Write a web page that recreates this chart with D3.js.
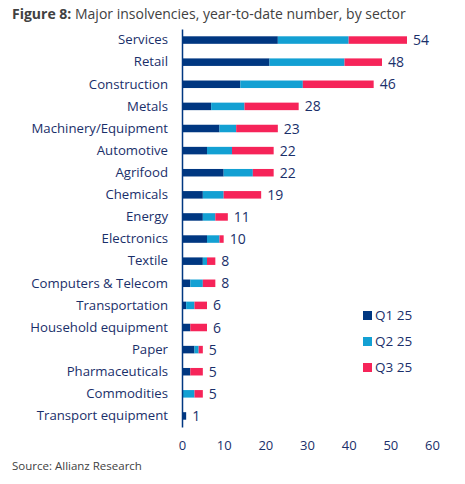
<!DOCTYPE html>
<html>
<head>
<meta charset="utf-8">
<script src="https://cdn.jsdelivr.net/npm/d3@7"></script>
<style>
  body { margin: 0; background: #fff; }
  svg { font-family: "Open Sans", "Noto Sans", sans-serif; }
</style>
</head>
<body>
<svg id="chart" width="465" height="484"></svg>
<script>
const sectors = ['Services', 'Retail', 'Construction', 'Metals', 'Machinery/Equipment', 'Automotive',
  'Agrifood', 'Chemicals', 'Energy', 'Electronics', 'Textile', 'Computers & Telecom', 'Transportation',
  'Household equipment', 'Paper', 'Pharmaceuticals', 'Commodities', 'Transport equipment'];
const q1 = [23, 21, 14, 7, 9, 6, 10, 5, 5, 6, 5, 2, 1, 2, 3, 2, 0, 1];
const q2 = [17, 18, 15, 8, 4, 6, 7, 5, 3, 3, 1, 3, 2, 0, 1, 0, 3, 0];
const q3 = [14, 9, 17, 13, 10, 10, 5, 9, 3, 1, 2, 3, 3, 4, 1, 3, 2, 0];
const seriesNames = ['Q1 25', 'Q2 25', 'Q3 25'];
const xTicks = [0, 10, 20, 30, 40, 50, 60];

const colors = ['#003781', '#13a0d3', '#f62459'];
const navy = '#1a2f6a';
const font = '"Open Sans", "Noto Sans", sans-serif';

const svg = d3.select('#chart');

// title
const title = svg.append('text').attr('x', 12).attr('y', 19)
  .attr('font-size', 14).attr('fill', '#414141');
title.append('tspan').attr('font-weight', 'bold').text('Figure 8:');
title.append('tspan').text(' Major insolvencies, year-to-date number, by sector');

const rows = sectors.map((s, i) => ({ sector: s, vals: [q1[i], q2[i], q3[i]] }));
const stack = d3.stack().keys([0, 1, 2]).value((d, k) => d.vals[k])(rows);

const x = d3.scaleLinear().domain([0, 60]).range([182, 432]);
const y = d3.scaleBand().domain(sectors).range([29, 427]).paddingInner(0.66).paddingOuter(0.33);

// bars
svg.append('g').selectAll('g')
  .data(stack)
  .join('g')
  .attr('fill', (d, i) => colors[i])
  .selectAll('rect')
  .data(d => d)
  .join('rect')
  .attr('x', d => x(d[0]))
  .attr('y', d => y(d.data.sector))
  .attr('width', d => x(d[1]) - x(d[0]))
  .attr('height', y.bandwidth());

// totals
svg.append('g').selectAll('text')
  .data(rows)
  .join('text')
  .attr('x', d => x(d3.sum(d.vals)) + 6)
  .attr('y', d => y(d.sector) + y.bandwidth() / 2)
  .attr('dy', '0.36em')
  .attr('font-size', 14)
  .attr('fill', navy)
  .text(d => d3.sum(d.vals));

// category axis
const yAxis = svg.append('g').attr('transform', 'translate(182,0)')
  .call(d3.axisLeft(y).tickSize(0).tickPadding(14));
yAxis.select('.domain').attr('stroke', '#003781').attr('stroke-width', 1.5);
yAxis.selectAll('text').attr('font-size', 13.2).attr('fill', navy).attr('font-family', font);

// value axis labels
const xAxis = svg.append('g').attr('transform', 'translate(0,441)')
  .call(d3.axisBottom(x).tickValues(xTicks).tickSize(0).tickPadding(0));
xAxis.select('.domain').remove();
xAxis.selectAll('text').attr('font-size', 13).attr('fill', navy).attr('font-family', font);

// legend
const legend = svg.append('g').selectAll('g')
  .data(seriesNames)
  .join('g')
  .attr('transform', (d, i) => `translate(363,${311 + i * 26})`);
legend.append('rect').attr('width', 9).attr('height', 9).attr('fill', (d, i) => colors[i]);
legend.append('text').attr('x', 12).attr('y', 4.5).attr('dy', '0.36em')
  .attr('font-size', 13.5).attr('fill', navy).text(d => d);

// source
svg.append('text').attr('x', 12).attr('y', 470)
  .attr('font-size', 11.5).attr('fill', '#414141').text('Source: Allianz Research');
</script>
</body>
</html>
